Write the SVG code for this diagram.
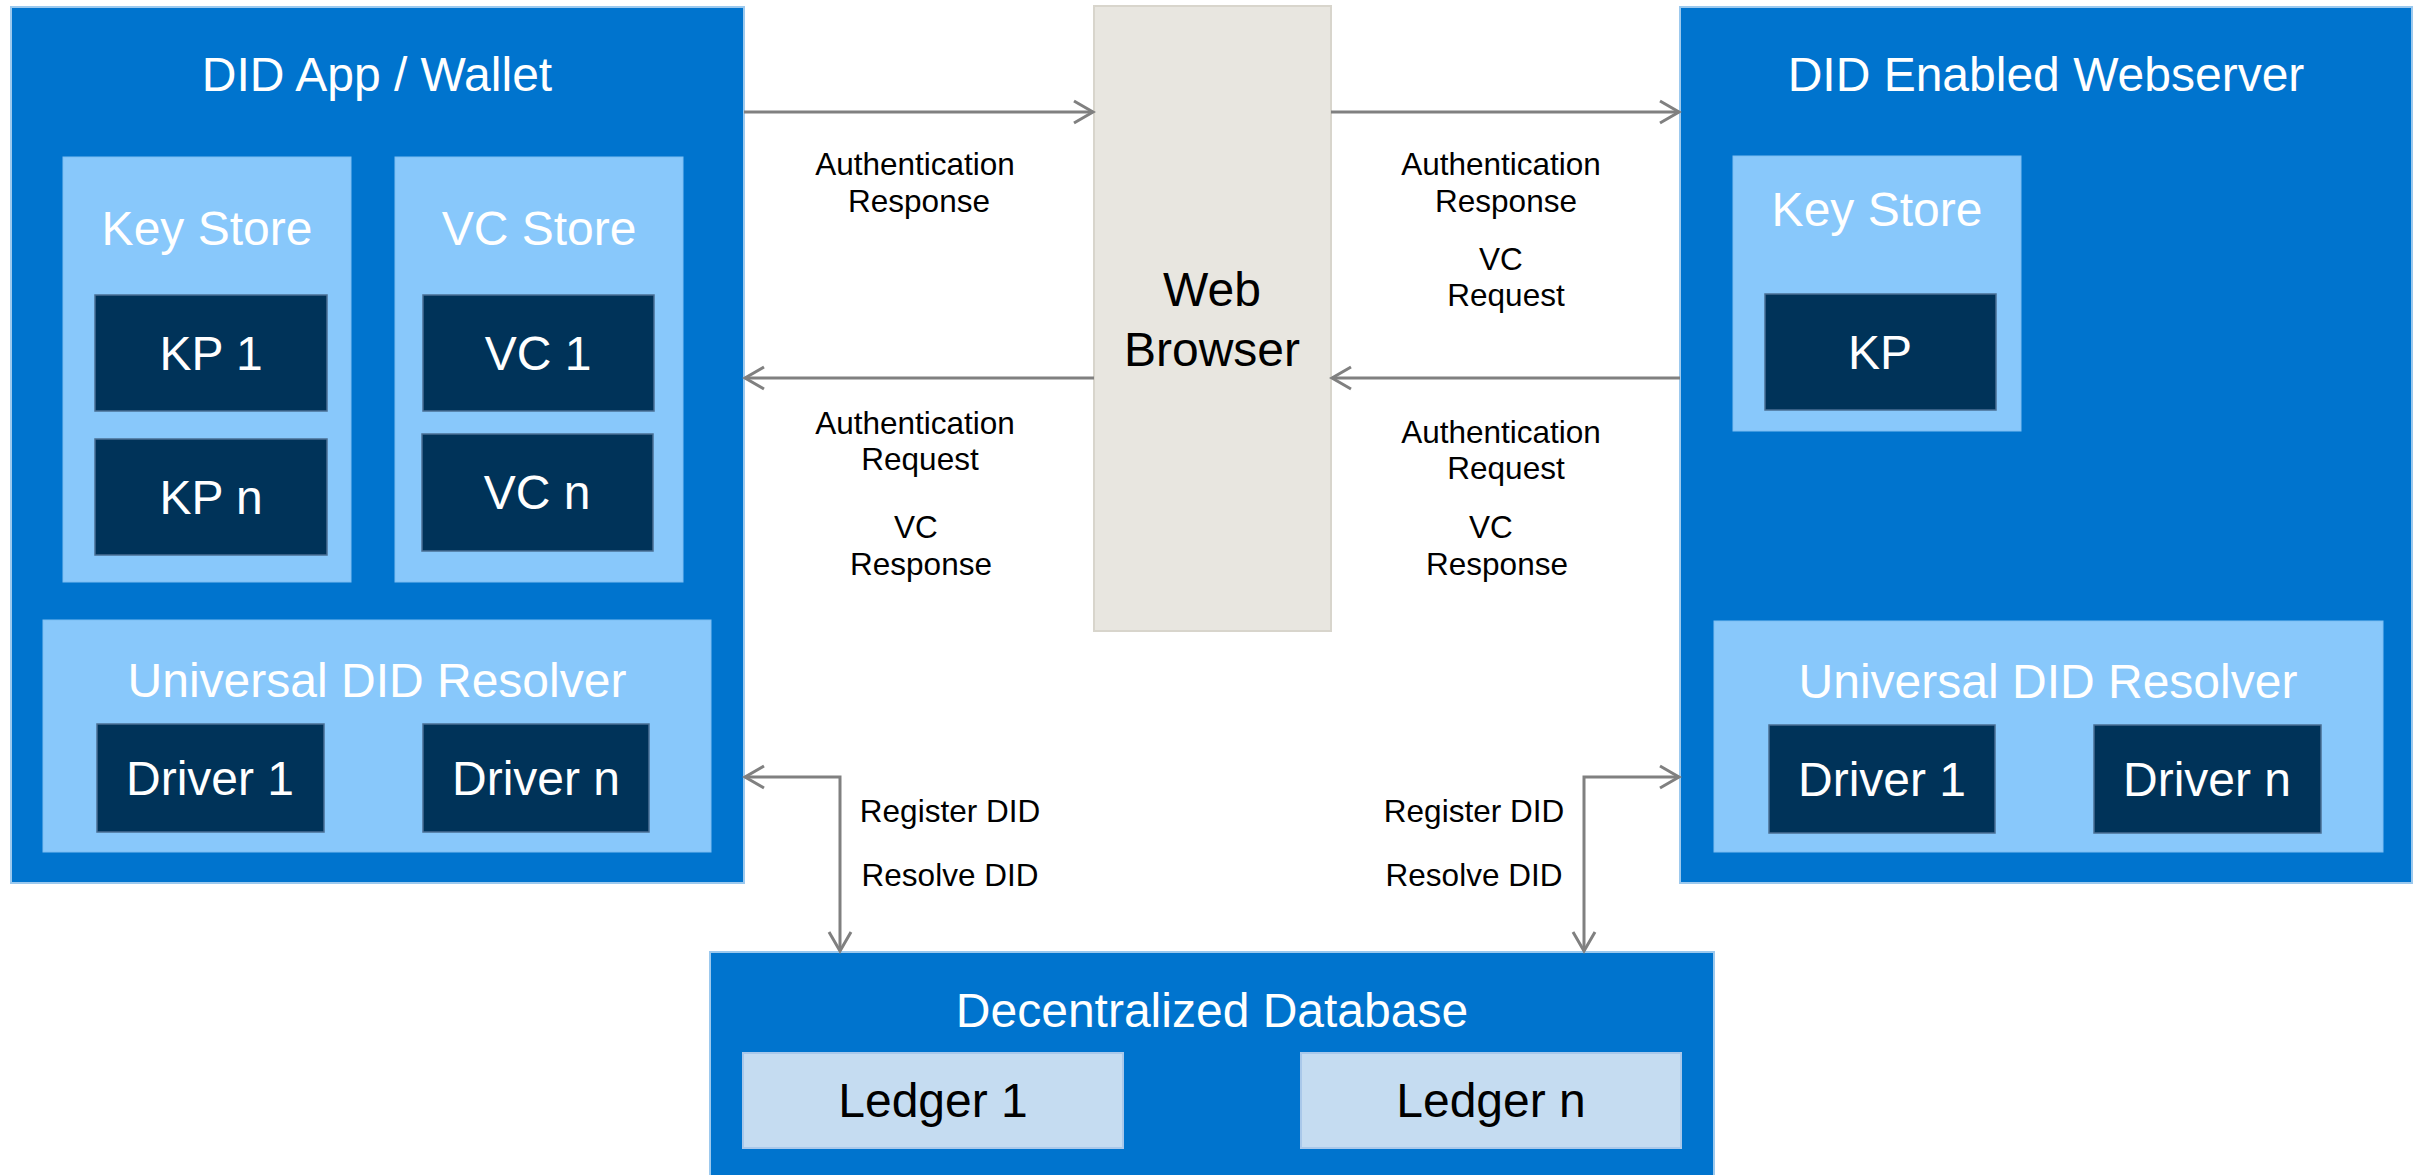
<svg xmlns="http://www.w3.org/2000/svg" width="2420" height="1175" viewBox="0 0 2420 1175">
  <style>
    text { font-family: "Liberation Sans", Arial, sans-serif; text-anchor: middle; }
    .outer { fill: #0074CE; stroke: #9CC9EE; stroke-width: 2; }
    .panel { fill: #88C8FB; stroke: #7DBDF2; stroke-width: 1; }
    .item { fill: #003359; stroke: #4A6F94; stroke-width: 1.5; }
    .ledger { fill: #C5DCF1; stroke: #A9C8EA; stroke-width: 2; }
    .browser { fill: #E8E6E0; stroke: #D8D5CC; stroke-width: 2; }
    .big { font-size: 48px; fill: #FFFFFF; }
    .dark { font-size: 48px; fill: #000000; }
    .lbl { font-size: 31.5px; fill: #000000; }
    .wire { fill: none; stroke: #808080; stroke-width: 3; }
  </style>
  <defs>
    <marker id="chev" markerUnits="userSpaceOnUse" markerWidth="24" markerHeight="26" viewBox="0 0 24 26" refX="21" refY="13" orient="auto-start-reverse">
      <path d="M2,2 L21,13 L2,24" fill="none" stroke="#808080" stroke-width="3"/>
    </marker>
  </defs>

  <rect width="2420" height="1175" fill="#FFFFFF"/>

  <!-- Wallet side -->
  <g id="wallet">
    <rect class="outer" x="11" y="7" width="733" height="876"/>
    <text class="big" x="377" y="91">DID App / Wallet</text>
  </g>
  <g id="wallet-keystore">
    <rect class="panel" x="63" y="157" width="288" height="425"/>
    <text class="big" x="207" y="245">Key Store</text>
  </g>
  <g id="wallet-kp1">
    <rect class="item" x="95" y="295" width="232" height="116"/>
    <text class="big" x="211" y="370">KP 1</text>
  </g>
  <g id="wallet-kpn">
    <rect class="item" x="95" y="439" width="232" height="116"/>
    <text class="big" x="211" y="514">KP n</text>
  </g>
  <g id="wallet-vcstore">
    <rect class="panel" x="395" y="157" width="288" height="425"/>
    <text class="big" x="539" y="245">VC Store</text>
  </g>
  <g id="wallet-vc1">
    <rect class="item" x="423" y="295" width="231" height="116"/>
    <text class="big" x="538" y="370">VC 1</text>
  </g>
  <g id="wallet-vcn">
    <rect class="item" x="422" y="434" width="231" height="117"/>
    <text class="big" x="537" y="509">VC n</text>
  </g>
  <g id="wallet-resolver">
    <rect class="panel" x="43" y="620" width="668" height="232"/>
    <text class="big" x="377" y="697">Universal DID Resolver</text>
  </g>
  <g id="wallet-driver1">
    <rect class="item" x="97" y="724" width="227" height="108"/>
    <text class="big" x="210" y="795">Driver 1</text>
  </g>
  <g id="wallet-drivern">
    <rect class="item" x="423" y="724" width="226" height="108"/>
    <text class="big" x="536" y="795">Driver n</text>
  </g>

  <!-- Browser -->
  <g id="browser">
    <rect class="browser" x="1094" y="6" width="237" height="625"/>
    <text class="dark" x="1212" y="306">Web</text>
    <text class="dark" x="1212" y="366">Browser</text>
  </g>

  <!-- Webserver side -->
  <g id="webserver">
    <rect class="outer" x="1680" y="7" width="732" height="876"/>
    <text class="big" x="2046" y="91">DID Enabled Webserver</text>
  </g>
  <g id="server-keystore">
    <rect class="panel" x="1733" y="156" width="288" height="275"/>
    <text class="big" x="1877" y="226">Key Store</text>
  </g>
  <g id="server-kp">
    <rect class="item" x="1765" y="294" width="231" height="116"/>
    <text class="big" x="1880" y="369">KP</text>
  </g>
  <g id="server-resolver">
    <rect class="panel" x="1714" y="621" width="669" height="231"/>
    <text class="big" x="2048" y="698">Universal DID Resolver</text>
  </g>
  <g id="server-driver1">
    <rect class="item" x="1769" y="725" width="226" height="108"/>
    <text class="big" x="1882" y="796">Driver 1</text>
  </g>
  <g id="server-drivern">
    <rect class="item" x="2094" y="725" width="227" height="108"/>
    <text class="big" x="2207" y="796">Driver n</text>
  </g>

  <!-- Ledger layer -->
  <g id="database">
    <rect class="outer" x="710" y="952" width="1004" height="240"/>
    <text class="big" x="1212" y="1027">Decentralized Database</text>
  </g>
  <g id="ledger1">
    <rect class="ledger" x="743" y="1053" width="380" height="95"/>
    <text class="dark" x="933" y="1117">Ledger 1</text>
  </g>
  <g id="ledgern">
    <rect class="ledger" x="1301" y="1053" width="380" height="95"/>
    <text class="dark" x="1491" y="1117">Ledger n</text>
  </g>

  <!-- Connectors -->
  <g id="connectors">
    <path class="wire" d="M744,112 H1093" marker-end="url(#chev)"/>
    <path class="wire" d="M1331,112 H1679" marker-end="url(#chev)"/>
    <path class="wire" d="M1094,378 H745" marker-end="url(#chev)"/>
    <path class="wire" d="M1680,378 H1332" marker-end="url(#chev)"/>
    <path class="wire" d="M745,777 H840 V951" marker-start="url(#chev)" marker-end="url(#chev)"/>
    <path class="wire" d="M1679,777 H1584 V951" marker-start="url(#chev)" marker-end="url(#chev)"/>
  </g>

  <!-- Connector labels -->
  <g id="labels">
    <text class="lbl" x="915" y="175">Authentication</text>
    <text class="lbl" x="919" y="212">Response</text>

    <text class="lbl" x="1501" y="175">Authentication</text>
    <text class="lbl" x="1506" y="212">Response</text>
    <text class="lbl" x="1501" y="270">VC</text>
    <text class="lbl" x="1506" y="306">Request</text>

    <text class="lbl" x="915" y="434">Authentication</text>
    <text class="lbl" x="920" y="470">Request</text>
    <text class="lbl" x="916" y="538">VC</text>
    <text class="lbl" x="921" y="575">Response</text>

    <text class="lbl" x="1501" y="443">Authentication</text>
    <text class="lbl" x="1506" y="479">Request</text>
    <text class="lbl" x="1491" y="538">VC</text>
    <text class="lbl" x="1497" y="575">Response</text>

    <text class="lbl" x="950" y="822">Register DID</text>
    <text class="lbl" x="950" y="886">Resolve DID</text>
    <text class="lbl" x="1474" y="822">Register DID</text>
    <text class="lbl" x="1474" y="886">Resolve DID</text>
  </g>
</svg>
